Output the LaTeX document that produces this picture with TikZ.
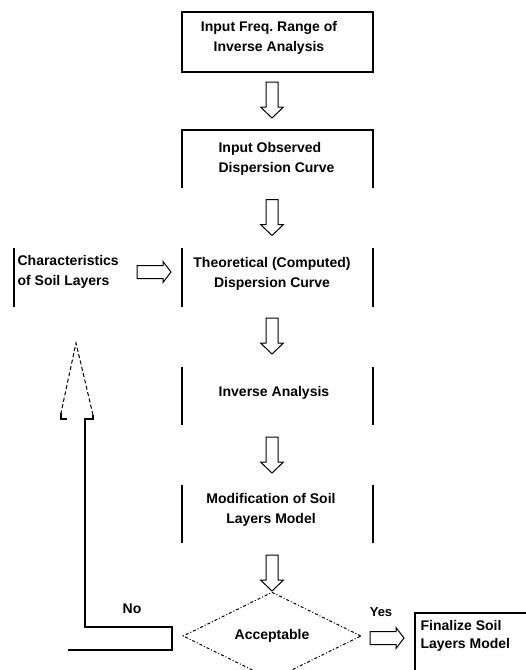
\documentclass[tikz,border=0pt]{standalone}
\usepackage{fontspec}
\setmainfont{Liberation Sans}
\frenchspacing
\usetikzlibrary{shapes.geometric}
\newcommand{\blockdown}[1]{\draw[blockarrow] (#1) ++(-6,-18) -- ++(12,0) -- ++(0,25) -- ++(5.5,0) -- ++(-11.5,11) -- ++(-11.5,-11) -- ++(5.5,0) -- cycle;}
\newcommand{\blockright}[1]{\draw[blockarrow] (#1) ++(-17,-6.5) -- ++(26,0) -- ++(0,-4) -- ++(8,10.5) -- ++(-8,10.5) -- ++(0,-4) -- ++(-26,0) -- cycle;}
\begin{document}
\begin{tikzpicture}[x=1pt,y=-1pt,line width=1.2pt,
  lbl/.style={font=\fontsize{14}{20}\selectfont\bfseries,inner sep=0pt,align=center},
  boxframe/.style={inner sep=0pt,outer sep=0pt,draw=none,minimum width=191pt},
  blockarrow/.style={line width=1pt,line join=miter},
  dashhead/.style={line width=1pt,dash pattern=on 4pt off 2.5pt},
  dashdia/.style={line width=1pt,dash pattern=on 3pt off 2pt on 1pt off 2pt}
]
\useasboundingbox (0,0) rectangle (526,670);
% boxes
\node[boxframe,draw,minimum height=60pt] (b1) at (277.5,42) {};
\node[boxframe,minimum height=58pt] (b2) at (277.5,159) {};
\node[boxframe,minimum height=59pt] (b3) at (277.5,277.5) {};
\node[boxframe,minimum height=58pt] (b4) at (277.5,396) {};
\node[boxframe,minimum height=58pt] (b5) at (277.5,514) {};
\node[inner sep=0pt,outer sep=0pt,minimum width=110pt,minimum height=59pt] (ch) at (69,277.5) {};
\node[inner sep=0pt,outer sep=0pt,minimum width=130pt,minimum height=70pt,anchor=north west] (fin) at (415,613) {};
\draw (b2.south west) -- (b2.north west) -- (b2.north east) -- (b2.south east);
\foreach \b in {b3,b4,b5} {
  \draw (\b.south west) -- (\b.north west);
  \draw (\b.south east) -- (\b.north east);
}
\draw (ch.south west) -- (ch.north west);
\draw (fin.south west) -- (fin.north west) -- (fin.north east);
% texts
\node[lbl] (t1) at (269,38) {Input Freq. Range of\\Inverse Analysis};
\node[lbl,align=left,anchor=west] (t2) at (218,158.5) {Input Observed\\Dispersion Curve};
\node[lbl] (t3) at (272,274) {Theoretical (Computed)\\Dispersion Curve};
\node[lbl] (t4) at (274,393) {Inverse Analysis};
\node[lbl] (t5) at (271,509.5) {Modification of Soil\\Layers Model};
\node[lbl,align=left,anchor=west] (tc) at (17,272) {Characteristics\\of Soil Layers};
\node[lbl,align=left,anchor=west,font=\fontsize{14}{18}\selectfont\bfseries] (tf) at (420,636) {Finalize Soil\\Layers Model};
% decision
\node[diamond,draw,dashdia,minimum width=178pt,minimum height=68pt,lbl] (dia) at (272,636) {Acceptable};
\node[lbl] (no) at (132,609) {No};
\node[lbl,font=\fontsize{13}{16}\selectfont\bfseries] (yes) at (381,612) {Yes};
% block arrows
\coordinate (a1) at (272,100);
\coordinate (a2) at (272,217.5);
\coordinate (a3) at (272,336);
\coordinate (a4) at (272,455);
\coordinate (a5) at (272,573);
\coordinate (ra) at (154,272);
\coordinate (ya) at (387,638);
\foreach \a in {a1,a2,a3,a4,a5} {\blockdown{\a}}
\blockright{ra}
\blockright{ya}
% feedback arrow
\coordinate (fbstart) at (68,650);
\coordinate (fbtip) at (76,343);
\draw (fbstart) -- (172,650) -- (172,627) -- (85,627) -- (85,419) -- (93,419) -- (93,415);
\draw[dashhead] (93,415) -- (fbtip) -- (61,413);
\draw (61,413) -- (61,419) -- (67,419);
\end{tikzpicture}
\end{document}
